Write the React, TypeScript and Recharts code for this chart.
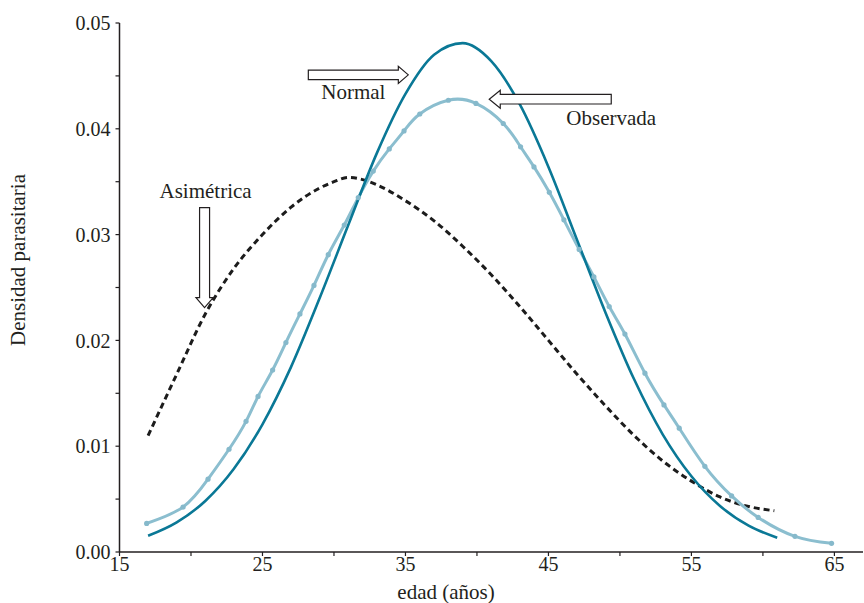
import React from "react";
import { LineChart, Line, XAxis, YAxis, ReferenceDot, Label } from "recharts";

// edad (años) / densidad for each curve
const normalAge = [17, 19, 21, 23, 25, 27, 29, 31, 33, 35, 37, 39, 41, 43, 45, 47, 49, 51, 53, 55, 57, 59, 61];
const normalDensity = [
  0.00153, 0.0028, 0.00482, 0.00786, 0.01207, 0.0175, 0.024, 0.0309, 0.0377, 0.0433, 0.047, 0.0481,
  0.0464, 0.0423, 0.0364, 0.0295, 0.0226, 0.0163, 0.0111, 0.00716, 0.00435, 0.00249, 0.00135,
];

const observedAge = [
  16.9, 19.44, 21.19, 22.66, 23.85, 24.69, 25.71, 26.64, 27.62, 28.6, 29.6, 30.72, 31.7, 32.75, 33.87,
  34.9, 36.0, 38.0, 39.93, 41.84, 43.05, 43.99, 45.06, 46.08, 47.15, 48.18, 49.25, 50.35, 51.75, 53.08,
  54.15, 55.94, 57.81, 59.67, 62.24, 64.8,
];
const observedDensity = [
  0.0027, 0.00424, 0.00688, 0.00971, 0.01235, 0.0147, 0.0172, 0.0198, 0.0225, 0.0252, 0.0281, 0.0309,
  0.0335, 0.036, 0.0381, 0.0398, 0.0414, 0.0427, 0.0424, 0.0405, 0.0383, 0.0364, 0.034, 0.0314, 0.0286,
  0.026, 0.0232, 0.0206, 0.0169, 0.0139, 0.0117, 0.0081, 0.0053, 0.00327, 0.00148, 0.00082,
];

const skewAge = [17, 19, 21, 23, 25, 27, 29, 30, 31, 32, 33, 35, 37, 39, 41, 43, 45, 47, 49, 51, 53, 55, 57, 59, 60.8];
const skewDensity = [
  0.011, 0.0168, 0.0225, 0.0268, 0.03, 0.0326, 0.0344, 0.035, 0.0354, 0.0352, 0.0347, 0.0332, 0.0313,
  0.0289, 0.0262, 0.0232, 0.02, 0.0168, 0.0138, 0.011, 0.0086, 0.0067, 0.0052, 0.0043, 0.0039,
];

const xTicks = [15, 20, 25, 30, 35, 40, 45, 50, 55, 60, 65];
const yTicks = [0, 0.005, 0.01, 0.015, 0.02, 0.025, 0.03, 0.035, 0.04, 0.045, 0.05];

const INK = "#231f20";
const FONT = "'Liberation Serif', 'Times New Roman', serif";

const normalData = normalAge.map((x, i) => ({ x, y: normalDensity[i] }));
const observedData = observedAge.map((x, i) => ({ x, y: observedDensity[i] }));
const skewData = skewAge.map((x, i) => ({ x, y: skewDensity[i] }));

const arrowStyle = { fill: "#fff", stroke: INK, strokeWidth: 1.2 };
const textStyle = { fontFamily: FONT, fontSize: 21, fill: INK };

const RightArrow = ({ cx, cy, text }: any) => (
  <g>
    <polygon
      points={`${cx},${cy} ${cx - 10},${cy - 8.6} ${cx - 10},${cy - 4.7} ${cx - 100},${cy - 4.7} ${cx - 100},${cy + 4.7} ${cx - 10},${cy + 4.7} ${cx - 10},${cy + 8.6}`}
      {...arrowStyle}
    />
    <text x={cx - 55} y={cy + 24} textAnchor="middle" style={textStyle}>
      {text}
    </text>
  </g>
);

const LeftArrow = ({ cx, cy, text }: any) => (
  <g>
    <polygon
      points={`${cx},${cy} ${cx + 11},${cy - 9} ${cx + 11},${cy - 4.8} ${cx + 122},${cy - 4.8} ${cx + 122},${cy + 4.8} ${cx + 11},${cy + 4.8} ${cx + 11},${cy + 9}`}
      {...arrowStyle}
    />
    <text x={cx + 122} y={cy + 26} textAnchor="middle" style={textStyle}>
      {text}
    </text>
  </g>
);

const DownArrow = ({ cx, cy, text }: any) => (
  <g>
    <polygon
      points={`${cx},${cy} ${cx - 8.6},${cy - 10} ${cx - 5},${cy - 10} ${cx - 5},${cy - 100} ${cx + 5},${cy - 100} ${cx + 5},${cy - 10} ${cx + 8.6},${cy - 10}`}
      {...arrowStyle}
    />
    <text x={cx + 1} y={cy - 110} textAnchor="middle" style={textStyle}>
      {text}
    </text>
  </g>
);

export default function App() {
  return (
    <div style={{ width: 864, height: 603, background: "#fff", fontFamily: FONT }}>
      <style>{"body{margin:0}"}</style>
      <LineChart width={864} height={603} margin={{ top: 23, right: 1, left: 0, bottom: 0 }}>
        <XAxis
          dataKey="x"
          type="number"
          domain={[15, 67]}
          ticks={xTicks}
          tickFormatter={(v) => ((v - 15) % 10 === 0 ? String(v) : "")}
          height={51}
          tickSize={4}
          tickMargin={1}
          axisLine={{ stroke: INK, strokeWidth: 1.5 }}
          tickLine={{ stroke: INK, strokeWidth: 1.2 }}
          tick={{ fill: INK, fontSize: 20, fontFamily: FONT }}
          allowDataOverflow
        >
          <Label
            content={() => (
              <text x={446} y={599} textAnchor="middle" style={textStyle}>
                edad (años)
              </text>
            )}
          />
        </XAxis>
        <YAxis
          type="number"
          domain={[0, 0.05]}
          ticks={yTicks}
          tickFormatter={(v) => (Math.round(v * 1000) % 10 === 0 ? v.toFixed(2) : "")}
          width={119.5}
          tickSize={4}
          tickMargin={5}
          axisLine={{ stroke: INK, strokeWidth: 1.5 }}
          tickLine={{ stroke: INK, strokeWidth: 1.2 }}
          tick={{ fill: INK, fontSize: 20, fontFamily: FONT }}
          allowDataOverflow
        >
          <Label
            content={() => (
              <text
                x={25}
                y={260}
                transform="rotate(-90 25 260)"
                textAnchor="middle"
                style={textStyle}
              >
                Densidad parasitaria
              </text>
            )}
          />
        </YAxis>
        <Line
          data={skewData}
          dataKey="y"
          type="monotone"
          stroke="#1c1c1c"
          strokeWidth={3}
          strokeDasharray="6 4"
          dot={false}
          activeDot={false}
          isAnimationActive={false}
        />
        <Line
          data={observedData}
          dataKey="y"
          type="natural"
          stroke="#8bbecf"
          strokeWidth={3}
          dot={{ r: 2.6, fill: "#86b9cb", stroke: "none" }}
          activeDot={false}
          isAnimationActive={false}
        />
        <Line
          data={normalData}
          dataKey="y"
          type="monotone"
          stroke="#0a7896"
          strokeWidth={2.6}
          dot={false}
          activeDot={false}
          isAnimationActive={false}
        />
        <ReferenceDot x={35.2} y={0.0451} r={0} shape={(p: any) => <RightArrow {...p} text="Normal" />} />
        <ReferenceDot x={40.86} y={0.0428} r={0} shape={(p: any) => <LeftArrow {...p} text="Observada" />} />
        <ReferenceDot x={20.95} y={0.0231} r={0} shape={(p: any) => <DownArrow {...p} text="Asimétrica" />} />
      </LineChart>
    </div>
  );
}
